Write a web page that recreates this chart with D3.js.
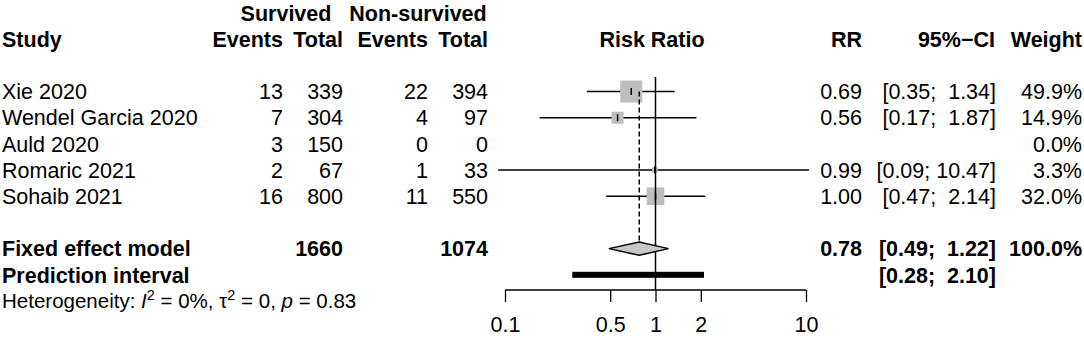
<!DOCTYPE html>
<html>
<head>
<meta charset="utf-8">
<script src="https://cdn.jsdelivr.net/npm/d3@7"></script>
<style>
  body { margin: 0; background: #fff; }
  svg text { font-family: "Liberation Sans", Arial, sans-serif; white-space: pre; fill: #000; }
</style>
</head>
<body>
<script>
// study data
var studies  = ["Xie 2020", "Wendel Garcia 2020", "Auld 2020", "Romaric 2021", "Sohaib 2021"];
var eventsS  = [13, 7, 3, 2, 16];
var totalS   = [339, 304, 150, 67, 800];
var eventsN  = [22, 4, 0, 1, 11];
var totalN   = [394, 97, 0, 33, 550];
var rr       = [0.69, 0.56, null, 0.99, 1.00];
var lower    = [0.35, 0.17, null, 0.09, 0.47];
var upper    = [1.34, 1.87, null, 10.47, 2.14];
var weight   = [49.9, 14.9, 0.0, 3.3, 32.0];

var fixedRR = 0.78, fixedLo = 0.49, fixedHi = 1.22;
var fixedTotals = [1660, 1074];
var predLo = 0.28, predHi = 2.10;
var tickValues = [0.1, 0.5, 1, 2, 10];

var W = 1084, H = 339, fs = 21.5;

var svg = d3.select("body").append("svg").attr("width", W).attr("height", H);

// row positions (one line per row of the table)
var y = d3.scaleLinear().domain([0, 11]).range([13, 301]);
var x = d3.scaleLog().domain([0.1, 10]).range([505, 806]);
var sq = d3.scaleSqrt().domain([0, d3.max(weight)]).range([0, 22]);

var f2 = d3.format(".2f");
function ci(lo, hi) {
  var a = f2(lo), b = f2(hi);
  while (b.length < 5) b = " " + b;
  return "[" + a + "; " + b + "]";
}

function txt(xp, row, s, anchor, bold, size) {
  return svg.append("text")
    .attr("x", xp).attr("y", y(row)).attr("dy", "0.36em")
    .attr("text-anchor", anchor || "start")
    .attr("font-weight", bold ? "bold" : null)
    .attr("font-size", size || fs)
    .attr("xml:space", "preserve")
    .text(s);
}

// column x positions
var cStudy = 2, cES = 283, cTS = 343, cEN = 428, cTN = 488, cRR = 862, cCI = 996, cW = 1082;

// headers
txt(286, 0, "Survived", "middle", true);
txt(418, 0, "Non-survived", "middle", true);
txt(cStudy, 1, "Study", "start", true);
txt(cES, 1, "Events", "end", true);
txt(cTS, 1, "Total", "end", true);
txt(cEN, 1, "Events", "end", true);
txt(cTN, 1, "Total", "end", true);
txt(652, 1, "Risk Ratio", "middle", true);
txt(cRR, 1, "RR", "end", true);
txt(cCI - 1, 1, "95%\u2212CI", "end", true);
txt(cW, 1, "Weight", "end", true);

// study rows
studies.forEach(function(s, i) {
  var r = i + 3;
  txt(cStudy, r, s);
  txt(cES, r, eventsS[i], "end");
  txt(cTS, r, totalS[i], "end");
  txt(cEN, r, eventsN[i], "end");
  txt(cTN, r, totalN[i], "end");
  if (rr[i] != null) {
    txt(cRR, r, f2(rr[i]), "end");
    txt(cCI, r, ci(lower[i], upper[i]), "end");
  }
  txt(cW, r, weight[i].toFixed(1) + "%", "end");
});

// summary rows
txt(cStudy, 9, "Fixed effect model", "start", true);
txt(cTS, 9, fixedTotals[0], "end", true);
txt(cTN, 9, fixedTotals[1], "end", true);
txt(cRR, 9, f2(fixedRR), "end", true);
txt(cCI, 9, ci(fixedLo, fixedHi), "end", true);
txt(cW, 9, "100.0%", "end", true);
txt(cStudy, 10, "Prediction interval", "start", true);
txt(cCI, 10, ci(predLo, predHi), "end", true);

// heterogeneity line with italics and superscripts
var het = svg.append("text").attr("x", cStudy).attr("y", y(11)).attr("dy", "0.36em")
  .attr("font-size", 20.5).attr("xml:space", "preserve");
het.append("tspan").text("Heterogeneity: ");
het.append("tspan").attr("font-style", "italic").text("I");
het.append("tspan").attr("font-size", 14.5).attr("dy", "-0.55em").text("2");
het.append("tspan").attr("dy", "0.38em").text(" = 0%, \u03c4");
het.append("tspan").attr("font-size", 14.5).attr("dy", "-0.55em").text("2");
het.append("tspan").attr("dy", "0.38em").text(" = 0, ");
het.append("tspan").attr("font-style", "italic").text("p");
het.append("tspan").text(" = 0.83");

// forest marks
var plot = svg.append("g");
var idx = d3.range(studies.length).filter(function(i) { return rr[i] != null; });

plot.selectAll(".ci").data(idx).enter().append("line")
  .attr("x1", function(i) { return x(lower[i]); })
  .attr("x2", function(i) { return x(upper[i]); })
  .attr("y1", function(i) { return y(i + 3); })
  .attr("y2", function(i) { return y(i + 3); })
  .attr("stroke", "#000").attr("stroke-width", 1.5);

plot.selectAll(".sq").data(idx).enter().append("rect")
  .attr("x", function(i) { return x(rr[i]) - sq(weight[i]) / 2; })
  .attr("y", function(i) { return y(i + 3) - sq(weight[i]) / 2; })
  .attr("width", function(i) { return sq(weight[i]); })
  .attr("height", function(i) { return sq(weight[i]); })
  .attr("fill", "#bebebe");

plot.selectAll(".mid").data(idx).enter().append("line")
  .attr("x1", function(i) { return x(rr[i]); })
  .attr("x2", function(i) { return x(rr[i]); })
  .attr("y1", function(i) { return y(i + 3) - 3.5; })
  .attr("y2", function(i) { return y(i + 3) + 3.5; })
  .attr("stroke", "#000").attr("stroke-width", 1.5);

// no-effect line and fixed-effect dashed line
plot.append("line").attr("x1", x(1)).attr("x2", x(1)).attr("y1", 77).attr("y2", 290)
  .attr("stroke", "#000").attr("stroke-width", 1.5);
plot.append("line").attr("x1", x(fixedRR)).attr("x2", x(fixedRR))
  .attr("y1", y(3)).attr("y2", y(9) - 6.5)
  .attr("stroke", "#000").attr("stroke-width", 1.5).attr("stroke-dasharray", "5,3");

// diamond
var dy9 = y(9);
plot.append("polygon")
  .attr("points", [[x(fixedLo), dy9], [x(fixedRR), dy9 - 6.7], [x(fixedHi), dy9], [x(fixedRR), dy9 + 6.7]].join(" "))
  .attr("fill", "#c8c8c8").attr("stroke", "#000").attr("stroke-width", 1.5);

// prediction interval bar
plot.append("rect")
  .attr("x", x(predLo)).attr("y", y(10) - 3)
  .attr("width", x(predHi) - x(predLo)).attr("height", 6)
  .attr("fill", "#000");

// axis
var axis = d3.axisBottom(x).tickValues(tickValues).tickSize(12).tickPadding(15)
  .tickFormat(function(d) { return d; });
var ag = svg.append("g").attr("transform", "translate(0,290)").call(axis);
ag.select(".domain").attr("d", "M" + x(0.1) + ",0H" + x(10)).attr("stroke-width", 1.3);
ag.selectAll(".tick line").attr("stroke-width", 1.3);
ag.selectAll(".tick text").attr("font-size", fs).attr("font-family", "Liberation Sans, Arial, sans-serif");
</script>
</body>
</html>
